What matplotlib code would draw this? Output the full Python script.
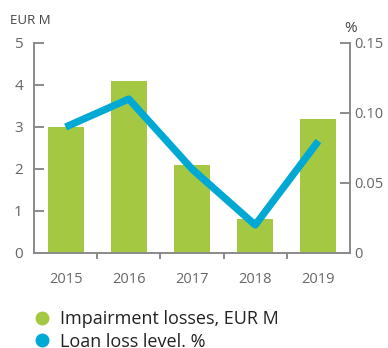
import numpy as np
import matplotlib.pyplot as plt
from matplotlib.lines import Line2D

years = ["2015", "2016", "2017", "2018", "2019"]
impairment = [3.0, 4.1, 2.1, 0.8, 3.2]
loan_loss = [0.09, 0.11, 0.06, 0.02, 0.08]

green = "#a5c843"
blue = "#00a9d4"
grey = "#8a8a8a"
label_col = "#666666"

plt.rcParams["font.family"] = ["Open Sans", "DejaVu Sans"]

fig = plt.figure(figsize=(3.88, 3.48), dpi=100)
ax = fig.add_axes([34 / 388, 95 / 348, 316 / 388, 210 / 348])
ax2 = ax.twinx()

x = np.arange(len(years))
ax.bar(x, impairment, width=0.57, color=green, zorder=2)
ax2.plot(x, loan_loss, color=blue, linewidth=5.2, solid_capstyle="butt", zorder=3)

ax.set_xlim(-0.5, 4.5)
ax.set_ylim(0, 5)
ax2.set_ylim(0, 0.15)

ax.set_yticks([0, 1, 2, 3, 4, 5])
ax2.set_yticks([0, 0.05, 0.10, 0.15])
ax2.set_yticklabels(["0", "0.05", "0.10", "0.15"])

# years sit between the boundary ticks
ax.set_xticks(x[:-1] + 0.5)
ax.set_xticklabels([])
for xi, yr in zip(x, years):
    ax.text(xi, -0.62, yr, ha="center", va="center", fontsize=10.5, color=label_col)

for a in (ax, ax2):
    for s in a.spines.values():
        s.set_color(grey)
        s.set_linewidth(1.4)
    a.spines["top"].set_visible(False)
ax.spines["right"].set_visible(False)
ax2.spines["left"].set_visible(False)
ax2.spines["bottom"].set_visible(False)

ax.tick_params(axis="y", direction="in", length=7, width=1.4, color=grey,
               labelsize=11, labelcolor=label_col, pad=8)
ax2.tick_params(axis="y", direction="in", length=7, width=1.4, color=grey,
                labelsize=10.5, labelcolor=label_col, pad=3)
ax.tick_params(axis="x", direction="out", length=4, width=1.4, color=grey)

fig.text(10 / 388, 1 - 20 / 348, "EUR M", fontsize=9.5, color="#444444", va="center")
fig.text(344 / 388, 1 - 28 / 348, "%", fontsize=11, color="#444444", va="center")

handles = [
    Line2D([], [], linestyle="none", marker="o", markersize=9, color=green),
    Line2D([], [], linestyle="none", marker="o", markersize=9, color=blue),
]
fig.legend(handles, ["Impairment losses, EUR M", "Loan loss level. %"],
           loc="upper left", bbox_to_anchor=(26 / 388, 1 - 303 / 348),
           frameon=False, fontsize=13, handletextpad=0.5, labelspacing=0.25,
           handlelength=1.0, borderaxespad=0, labelcolor="#222222")

fig.savefig("out.png", dpi=100)
